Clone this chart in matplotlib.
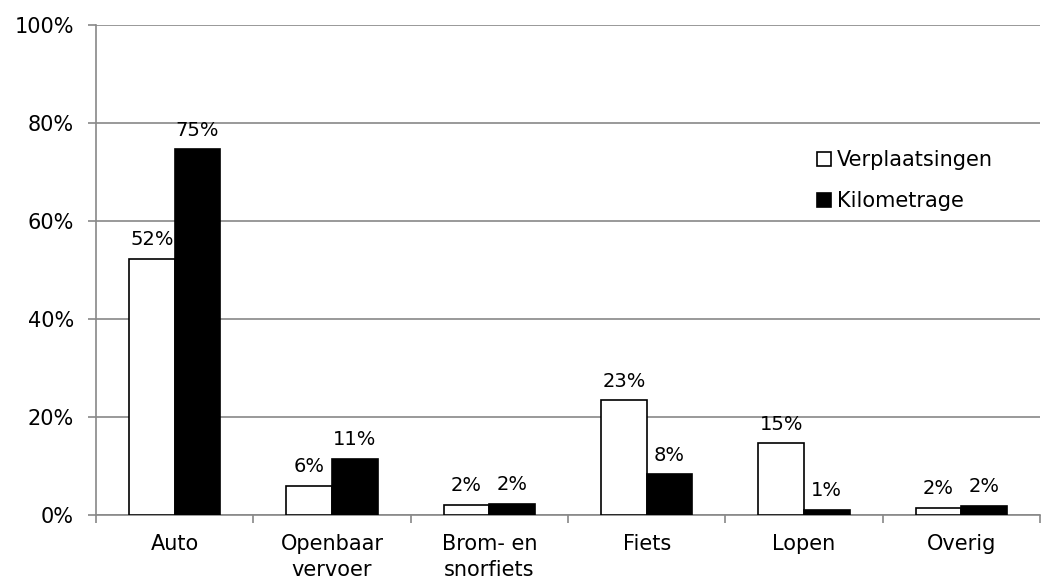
import matplotlib.pyplot as plt
import numpy as np

# Gegevens
categorieen = ["Auto", "Openbaar\nvervoer", "Brom- en\nsnorfiets", "Fiets", "Lopen", "Overig"]
verplaatsingen = [52.3, 6.0, 2.0, 23.4, 14.6, 1.5]
kilometrage = [74.6, 11.4, 2.2, 8.3, 1.0, 1.9]
y_ticks = [0, 20, 40, 60, 80, 100]

plt.rcParams['font.family'] = ['DejaVu Sans']
plt.rcParams['font.size'] = 14

fig = plt.figure(figsize=(10.53, 5.76), dpi=100)
ax = fig.add_axes([0.0912, 0.1059, 0.8965, 0.8507])

x = np.arange(len(categorieen))
w = 0.29
b1 = ax.bar(x - w / 2, verplaatsingen, w, color='white', edgecolor='black', linewidth=1.2,
            label='Verplaatsingen', zorder=3)
b2 = ax.bar(x + w / 2, kilometrage, w, color='black', edgecolor='black', linewidth=1.2,
            label='Kilometrage', zorder=3)

# Labels boven de staven
for rects, vals in [(b1, verplaatsingen), (b2, kilometrage)]:
    for r, v in zip(rects, vals):
        ax.annotate(f"{v:.0f}%", (r.get_x() + r.get_width() / 2, v),
                    xytext=(0, 7), textcoords='offset points',
                    ha='center', va='bottom', fontsize=14)

ax.set_xlim(-0.5, len(categorieen) - 0.5)
ax.set_ylim(0, 100)
ax.set_yticks(y_ticks)
ax.set_yticklabels([f"{t}%" for t in y_ticks], fontsize=15)
ax.yaxis.grid(True, color='#888888', linewidth=1.2, zorder=0)

# x-as: streepjes tussen de categorieën
ax.set_xticks(np.arange(len(categorieen) + 1) - 0.5)
ax.set_xticklabels([])
ax.set_xticks(x, minor=True)
ax.set_xticklabels(categorieen, minor=True, fontsize=15, linespacing=1.35)
ax.tick_params(axis='x', which='minor', length=0, pad=14)
ax.tick_params(axis='x', which='major', length=6, color='#888888', width=1.2)
ax.tick_params(axis='y', length=6, color='#888888', width=1.2, pad=10)

for s in ['top', 'right']:
    ax.spines[s].set_visible(False)
for s in ['left', 'bottom']:
    ax.spines[s].set_color('#888888')
    ax.spines[s].set_linewidth(1.2)

leg = ax.legend(loc='upper left', bbox_to_anchor=(0.744, 0.783), frameon=False,
                fontsize=15, handlelength=0.65, handleheight=0.65, handletextpad=0.3,
                labelspacing=1.0)

fig.savefig("out.png", dpi=100)
